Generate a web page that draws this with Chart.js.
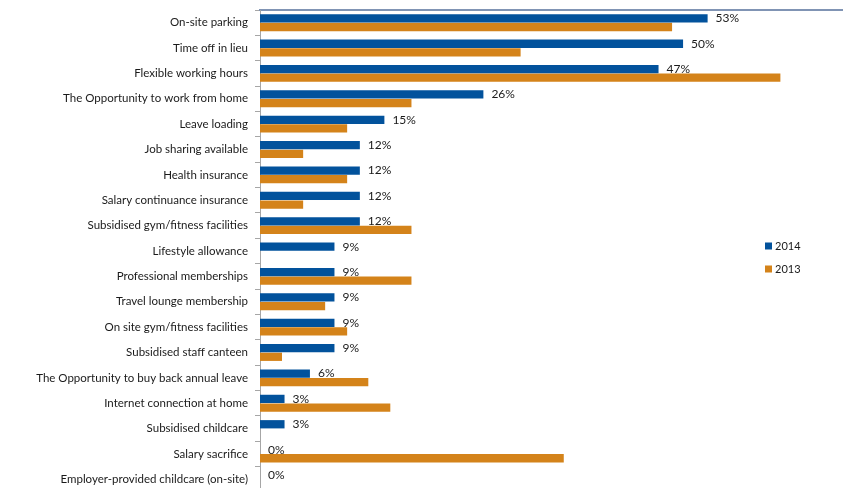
<!DOCTYPE html>
<html>
<head>
<meta charset="utf-8">
<script src="https://cdn.jsdelivr.net/npm/chart.js@4"></script>
<style>
  html, body { margin: 0; padding: 0; background: #fff; overflow: hidden; }
  #wrap { width: 843px; height: 492px; }
</style>
</head>
<body>
<div id="wrap"><canvas id="benefitsChart" width="843" height="492"></canvas></div>
<script>
// benefits offered, share of respondents (%)
const categories = [
  'On-site parking', 'Time off in lieu', 'Flexible working hours',
  'The Opportunity to work from home', 'Leave loading', 'Job sharing available',
  'Health insurance', 'Salary continuance insurance', 'Subsidised gym/fitness facilities',
  'Lifestyle allowance', 'Professional memberships', 'Travel lounge membership',
  'On site gym/fitness facilities', 'Subsidised staff canteen',
  'The Opportunity to buy back annual leave', 'Internet connection at home',
  'Subsidised childcare', 'Salary sacrifice', 'Employer-provided childcare (on-site)'
];
const values2014 = [52.9, 50, 47.1, 26.4, 14.7, 11.8, 11.8, 11.8, 11.8, 8.8, 8.8, 8.8, 8.8, 8.8, 5.9, 2.9, 2.9, 0, 0];
const values2013 = [48.7, 30.8, 61.5, 17.9, 10.3, 5.1, 10.3, 5.1, 17.9, 0, 17.9, 7.7, 10.3, 2.6, 12.8, 15.4, 0, 35.9, 0];
const seriesNames = ['2014', '2013'];

const FONT = 'Lato, "Open Sans", sans-serif';

// % labels next to the 2014 bars
const valueLabels = {
  id: 'valueLabels',
  afterDatasetsDraw(chart) {
    const c = chart.ctx;
    const meta = chart.getDatasetMeta(0);
    c.save();
    c.font = '12px ' + FONT;
    c.fillStyle = '#1a1a1a';
    c.textAlign = 'left';
    c.textBaseline = 'middle';
    meta.data.forEach((bar, i) => {
      c.fillText(Math.round(values2014[i]) + '%', bar.x + 8, bar.y);
    });
    c.restore();
  }
};

// small legend sitting inside the plot, right side
const sideLegend = {
  id: 'sideLegend',
  afterDraw(chart) {
    const c = chart.ctx;
    c.save();
    c.font = '11px ' + FONT;
    c.textBaseline = 'middle';
    chart.data.datasets.forEach((ds, i) => {
      const y = 246 + i * 23;
      c.fillStyle = ds.backgroundColor;
      c.fillRect(765, y - 3.5, 7, 7);
      c.fillStyle = '#1a1a1a';
      c.fillText(ds.label, 775, y);
    });
    c.restore();
  }
};

const ctx = document.getElementById('benefitsChart').getContext('2d');
const benefitsChart = new Chart(ctx, {
  type: 'bar',
  data: {
    labels: categories,
    datasets: [
      { label: seriesNames[0], data: values2014, backgroundColor: '#02529c' },
      { label: seriesNames[1], data: values2013, backgroundColor: '#d4831a' }
    ]
  },
  options: {
    indexAxis: 'y',
    responsive: false,
    animation: false,
    layout: { padding: 0 },
    datasets: {
      bar: { categoryPercentage: 0.68, barPercentage: 0.96 }
    },
    plugins: {
      legend: { display: false },
      tooltip: { enabled: false }
    },
    scales: {
      x: {
        position: 'top',
        min: 0,
        max: 68.9,
        ticks: { display: false },
        grid: { display: false },
        border: { display: true, color: '#8094b4', width: 2 },
        afterFit: (s) => { s.height = 10; s.paddingLeft = 0; s.paddingRight = 0; }
      },
      y: {
        ticks: { color: '#1a1a1a', font: { family: FONT, size: 11.5 }, padding: 7 },
        grid: { drawOnChartArea: false, offset: true, tickLength: 5, color: '#a6a6a6' },
        border: { display: true, color: '#a6a6a6', width: 1 },
        afterFit: (s) => { s.width = 260; s.paddingTop = 0; s.paddingBottom = 0; }
      }
    }
  },
  plugins: [valueLabels, sideLegend]
});
</script>
</body>
</html>
